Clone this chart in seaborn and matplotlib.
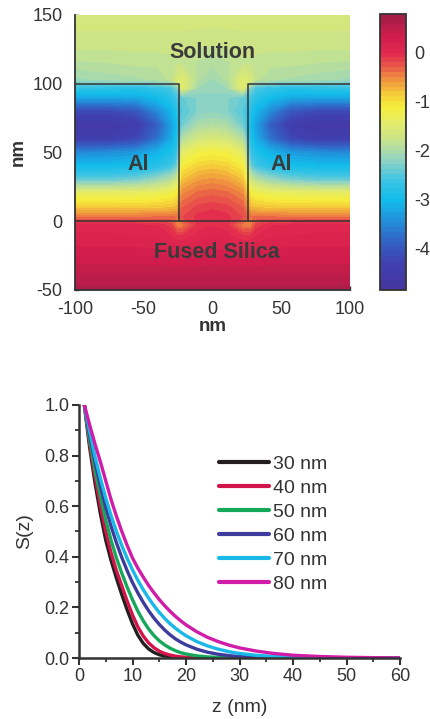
import numpy as np
import pandas as pd
import matplotlib
matplotlib.use("Agg")
import matplotlib.pyplot as plt
import seaborn as sns
from matplotlib.colors import LinearSegmentedColormap
from matplotlib.ticker import MultipleLocator

sns.set_theme(style="ticks")
plt.rcParams["font.family"] = ["Liberation Sans", "DejaVu Sans"]
plt.rcParams["axes.unicode_minus"] = False

# ---- top panel: log field map ----
field_x = [-100, -75, -55, -40, -30, -26, -22, -10, 0, 10, 22, 28, 32, 42, 57, 77, 100]
field_y = [-50, -40, -30, -20, -10, -3, 3, 10, 20, 30, 40, 50, 60, 70, 80, 90, 97, 103, 115, 130, 150]
field_rows = [
    [0.65, 0.65, 0.65, 0.65, 0.65, 0.65, 0.65, 0.65, 0.65, 0.65, 0.65, 0.65, 0.65, 0.65, 0.65, 0.65, 0.65],
    [0.52, 0.52, 0.52, 0.52, 0.52, 0.52, 0.52, 0.52, 0.52, 0.52, 0.52, 0.52, 0.52, 0.52, 0.52, 0.52, 0.52],
    [0.38, 0.38, 0.38, 0.37, 0.36, 0.35, 0.35, 0.36, 0.37, 0.36, 0.35, 0.35, 0.36, 0.37, 0.38, 0.38, 0.38],
    [0.22, 0.22, 0.22, 0.20, 0.18, 0.15, 0.15, 0.18, 0.20, 0.18, 0.15, 0.15, 0.18, 0.20, 0.22, 0.22, 0.22],
    [0.12, 0.12, 0.10, 0.08, 0.00, -0.10, -0.10, 0.05, 0.10, 0.05, -0.10, -0.10, 0.00, 0.08, 0.10, 0.12, 0.12],
    [0.05, 0.05, 0.03, 0.00, -0.15, -0.45, -0.45, -0.05, 0.00, -0.05, -0.45, -0.45, -0.15, 0.00, 0.03, 0.05, 0.05],
    [-0.40, -0.40, -0.40, -0.38, -0.35, -0.40, -0.20, -0.05, 0.00, -0.05, -0.20, -0.40, -0.35, -0.38, -0.40, -0.40, -0.40],
    [-0.85, -0.85, -0.85, -0.82, -0.80, -0.75, -0.30, -0.15, -0.12, -0.15, -0.30, -0.75, -0.80, -0.82, -0.85, -0.85, -0.85],
    [-1.35, -1.35, -1.33, -1.30, -1.20, -1.10, -0.50, -0.35, -0.32, -0.35, -0.50, -1.10, -1.20, -1.30, -1.33, -1.35, -1.35],
    [-2.40, -2.40, -2.30, -2.10, -1.90, -1.70, -0.80, -0.60, -0.55, -0.60, -0.80, -1.70, -1.90, -2.10, -2.30, -2.40, -2.40],
    [-3.00, -3.00, -2.95, -2.80, -2.60, -2.40, -1.10, -0.90, -0.85, -0.90, -1.10, -2.40, -2.60, -2.80, -2.95, -3.00, -3.00],
    [-3.50, -3.45, -3.35, -3.10, -2.90, -2.70, -1.45, -1.20, -1.15, -1.20, -1.45, -2.70, -2.90, -3.10, -3.35, -3.45, -3.50],
    [-4.40, -4.40, -4.20, -3.70, -3.20, -2.90, -1.95, -1.65, -1.60, -1.65, -1.95, -2.90, -3.20, -3.70, -4.20, -4.40, -4.40],
    [-4.60, -4.60, -4.45, -3.90, -3.30, -3.00, -2.35, -2.00, -1.95, -2.00, -2.35, -3.00, -3.30, -3.90, -4.45, -4.60, -4.60],
    [-4.20, -4.20, -4.00, -3.50, -3.10, -2.85, -2.50, -2.25, -2.20, -2.25, -2.50, -2.85, -3.10, -3.50, -4.00, -4.20, -4.20],
    [-3.20, -3.20, -3.20, -3.00, -2.80, -2.60, -2.40, -2.25, -2.20, -2.25, -2.40, -2.60, -2.80, -3.00, -3.20, -3.20, -3.20],
    [-2.70, -2.75, -2.80, -2.70, -2.55, -2.30, -1.45, -2.10, -2.15, -2.10, -1.45, -2.30, -2.55, -2.70, -2.80, -2.75, -2.70],
    [-2.10, -2.05, -2.00, -1.95, -1.85, -1.60, -1.50, -1.95, -2.10, -1.95, -1.50, -1.60, -1.85, -1.95, -2.00, -2.05, -2.10],
    [-1.90, -1.88, -1.85, -1.85, -1.82, -1.80, -1.80, -1.90, -1.95, -1.90, -1.80, -1.80, -1.82, -1.85, -1.85, -1.88, -1.90],
    [-1.72, -1.72, -1.72, -1.72, -1.72, -1.72, -1.72, -1.74, -1.75, -1.74, -1.72, -1.72, -1.72, -1.72, -1.72, -1.72, -1.72],
    [-1.62, -1.62, -1.62, -1.62, -1.62, -1.62, -1.62, -1.62, -1.62, -1.62, -1.62, -1.62, -1.62, -1.62, -1.62, -1.62, -1.62],
]
gap_left, gap_right = -24, 26
cbar_ticks = [0, -1, -2, -3, -4]

# ---- bottom panel: S(z) curves ----
z_nm = [1, 2, 3, 4, 5, 6, 7, 8, 9, 10, 11, 12, 13, 14, 15, 16, 17, 18, 19, 20,
        22, 24, 26, 28, 30, 33, 36, 40, 45, 50, 55, 60]
s_30 = [1.0, 0.83, 0.69, 0.57, 0.465, 0.385, 0.315, 0.25, 0.19, 0.135, 0.09, 0.058, 0.036, 0.022, 0.013, 0.008, 0.0045, 0.0025, 0.0014, 0.0008,
        0.0002, 0, 0, 0, 0, 0, 0, 0, 0, 0, 0, 0]
s_40 = [1.0, 0.845, 0.715, 0.60, 0.50, 0.415, 0.345, 0.285, 0.225, 0.17, 0.123, 0.087, 0.06, 0.041, 0.027, 0.018, 0.012, 0.0075, 0.0048, 0.003,
        0.0012, 0.0005, 0.0002, 0, 0, 0, 0, 0, 0, 0, 0, 0]
s_50 = [1.0, 0.86, 0.74, 0.64, 0.545, 0.465, 0.395, 0.335, 0.28, 0.23, 0.185, 0.147, 0.115, 0.089, 0.068, 0.052, 0.039, 0.029, 0.021, 0.016,
        0.0085, 0.0045, 0.0023, 0.0012, 0.0006, 0.0002, 0, 0, 0, 0, 0, 0]
s_60 = [1.0, 0.88, 0.775, 0.68, 0.595, 0.52, 0.455, 0.397, 0.345, 0.298, 0.257, 0.22, 0.187, 0.158, 0.133, 0.111, 0.092, 0.076, 0.063, 0.052,
        0.035, 0.023, 0.015, 0.0095, 0.006, 0.003, 0.0015, 0.0006, 0.0002, 0, 0, 0]
s_70 = [1.0, 0.895, 0.795, 0.71, 0.632, 0.562, 0.5, 0.444, 0.394, 0.348, 0.307, 0.27, 0.237, 0.207, 0.18, 0.157, 0.136, 0.118, 0.102, 0.088,
        0.065, 0.048, 0.035, 0.025, 0.018, 0.011, 0.0065, 0.0032, 0.0013, 0.0005, 0.0002, 0]
s_80 = [1.0, 0.92, 0.845, 0.775, 0.70, 0.625, 0.56, 0.50, 0.445, 0.395, 0.355, 0.32, 0.287, 0.258, 0.231, 0.207, 0.185, 0.165, 0.147, 0.131,
        0.104, 0.082, 0.065, 0.051, 0.04, 0.028, 0.019, 0.011, 0.006, 0.003, 0.0014, 0.0006]
widths = ["30 nm", "40 nm", "50 nm", "60 nm", "70 nm", "80 nm"]
line_colors = ["#231f20", "#d2144a", "#16a85a", "#3d3b9b", "#1ab8e8", "#d01ca8"]

cmap = LinearSegmentedColormap.from_list("field", [
    (0.000, "#4535a0"), (0.097, "#4040b0"), (0.186, "#3068c8"), (0.274, "#1c9fe0"),
    (0.327, "#12bdea"), (0.398, "#3cc4e4"), (0.469, "#8fd3c4"), (0.540, "#c6e28e"),
    (0.602, "#e4ec6a"), (0.664, "#f6ee3c"), (0.717, "#f4c43a"), (0.770, "#ee8a40"),
    (0.814, "#e85448"), (0.858, "#e2284e"), (0.920, "#d01c4c"), (1.000, "#a01e46"),
])
vmin, vmax = -4.85, 0.8

fig = plt.figure(figsize=(4.31, 7.19), dpi=100)
txt = "#333333"

# top map
ax1 = fig.add_axes([0.174, 0.5967, 0.638, 0.3825])
X, Y = np.meshgrid(field_x, field_y)
levels = np.linspace(vmin, vmax, 58)
cs = ax1.contourf(X, Y, np.array(field_rows), levels=levels, cmap=cmap, vmin=vmin, vmax=vmax)
ax1.set_xlim(-100, 100)
ax1.set_ylim(-50, 150)
ax1.set_xticks([-100, -50, 0, 50, 100])
ax1.set_yticks([-50, 0, 50, 100, 150])
ax1.tick_params(direction="in", length=3, width=1, colors=txt, labelsize=13)
ax1.tick_params(axis="y", pad=9)
ax1.tick_params(axis="x", pad=8)
for s in ["top", "right"]:
    ax1.spines[s].set_visible(False)
for s in ["left", "bottom"]:
    ax1.spines[s].set_color("#333333")
    ax1.spines[s].set_linewidth(1.3)
ax1.plot([-100, gap_left, gap_left], [100, 100, 0], color="#333333", lw=1.1)
ax1.plot([100, gap_right, gap_right], [100, 100, 0], color="#333333", lw=1.1)
ax1.plot([-100, 100], [0, 0], color="#333333", lw=1.1)
ax1.set_xlabel("nm", fontsize=13.5, fontweight="bold", color=txt, labelpad=0)
ax1.set_ylabel("nm", fontsize=13.5, fontweight="bold", color=txt, labelpad=4)
for tx, ty, t in [(0, 123, "Solution"), (-54, 41, "Al"), (50, 41, "Al"), (3, -23, "Fused Silica")]:
    ax1.text(tx, ty, t, ha="center", va="center", fontsize=15.5, fontweight="bold", color="#3a3a3a")

cax = fig.add_axes([0.8817, 0.5967, 0.0603, 0.384])
cb = fig.colorbar(cs, cax=cax, ticks=cbar_ticks)
cb.ax.set_yticklabels([str(t) for t in cbar_ticks])
cb.ax.tick_params(direction="in", length=3, width=1, left=True, right=True, colors=txt, labelsize=13, pad=6)
cb.outline.set_edgecolor("#333333")
cb.outline.set_linewidth(1.3)

# bottom curves
ax2 = fig.add_axes([0.1833, 0.0848, 0.745, 0.352])
curves = [s_30, s_40, s_50, s_60, s_70, s_80]
df = pd.concat([pd.DataFrame({"z": z_nm, "S": c, "width": w}) for c, w in zip(curves, widths)])
sns.lineplot(data=df, x="z", y="S", hue="width", hue_order=widths, palette=line_colors,
             estimator=None, linewidth=2.4, legend=False, ax=ax2)
ax2.set_xlim(0, 60)
ax2.set_ylim(0, 1.0)
ax2.xaxis.set_major_locator(MultipleLocator(10))
ax2.xaxis.set_minor_locator(MultipleLocator(5))
ax2.yaxis.set_major_locator(MultipleLocator(0.2))
ax2.yaxis.set_minor_locator(MultipleLocator(0.1))
ax2.yaxis.set_major_formatter(plt.FuncFormatter(lambda v, p: f"{v:.1f}"))
ax2.tick_params(which="major", direction="out", length=5, width=1.5, colors=txt, labelsize=13, pad=2)
ax2.tick_params(which="minor", direction="out", length=3, width=1.3, colors=txt)
sns.despine(ax=ax2)
for s in ["left", "bottom"]:
    ax2.spines[s].set_linewidth(1.8)
    ax2.spines[s].set_color("#333333")
ax2.set_xlabel("z (nm)", fontsize=14, color=txt, labelpad=10)
ax2.set_ylabel("S(z)", fontsize=14, color=txt, labelpad=8)
leg = ax2.legend(ax2.lines, widths, loc="center left", bbox_to_anchor=(0.38, 0.53),
                 bbox_transform=ax2.transAxes, frameon=False, fontsize=14,
                 handlelength=2.6, handletextpad=0.2, labelspacing=0.33)
for h in leg.legend_handles:
    h.set_linewidth(3)
for t in leg.get_texts():
    t.set_color(txt)

fig.savefig("out.png", dpi=100)
